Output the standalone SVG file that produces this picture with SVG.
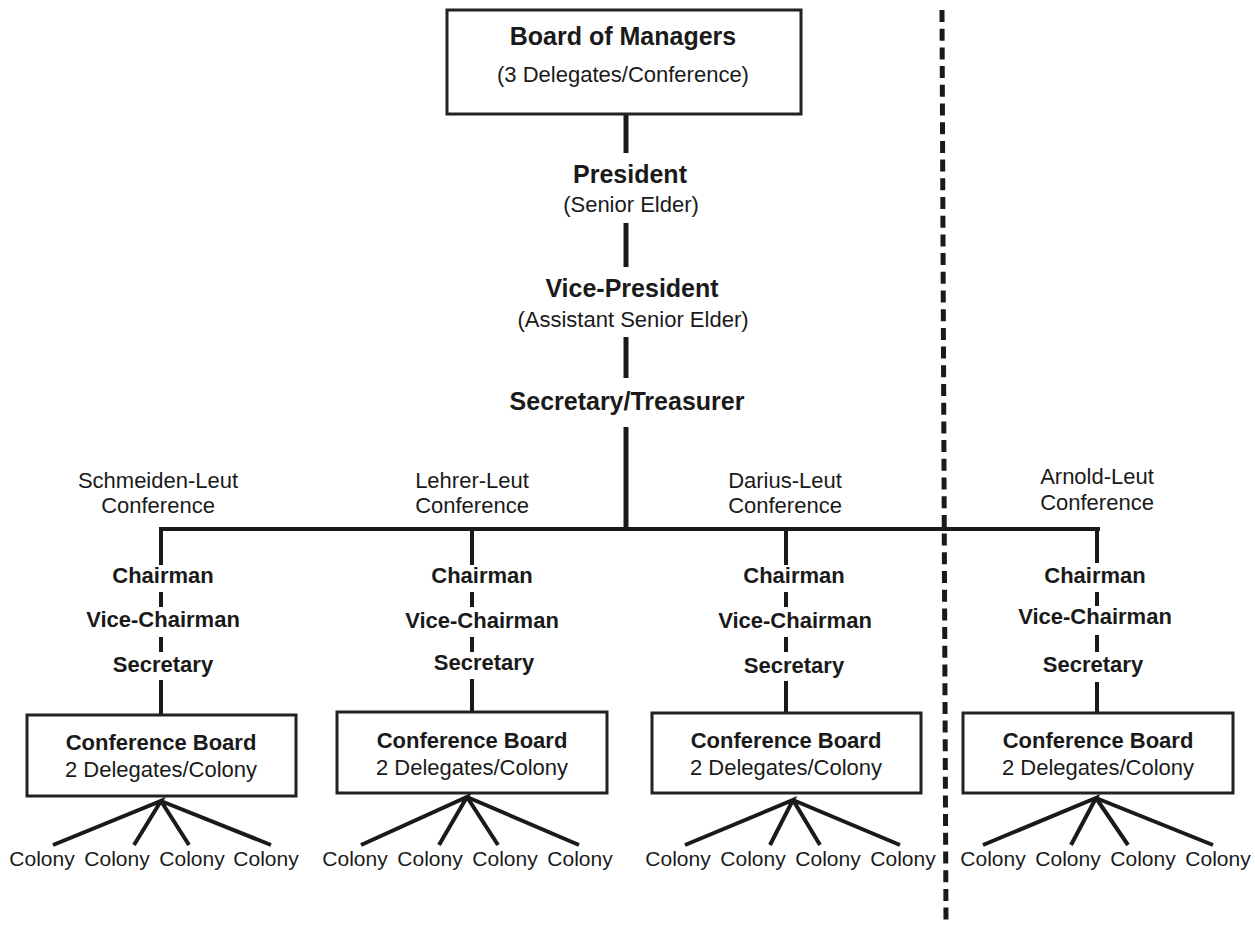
<svg xmlns="http://www.w3.org/2000/svg" width="1255" height="929" viewBox="0 0 1255 929">
<style>
.t{font-family:"Liberation Sans",Arial,Helvetica,sans-serif;fill:#1a1a1a;text-anchor:middle}
.b{font-weight:bold}
.c{font-size:21px}
.box{fill:none;stroke:#222;stroke-width:3}
.ln{stroke:#1a1a1a;stroke-width:4;fill:none}
.thick{stroke:#1a1a1a;stroke-width:5;fill:none}
</style>
<rect width="1255" height="929" fill="#ffffff"/>
<g id="connectors">
<line class="thick" x1="626" y1="114" x2="626" y2="153"/>
<line class="thick" x1="626" y1="223" x2="626" y2="267"/>
<line class="thick" x1="626" y1="337" x2="626" y2="378"/>
<line class="thick" x1="626" y1="427" x2="626" y2="529"/>
<line class="ln" x1="159" y1="529" x2="1100" y2="529"/>
<g id="col1-links">
<line class="ln" x1="161" y1="529" x2="161" y2="565"/>
<line class="ln" x1="161" y1="592" x2="161" y2="607"/>
<line class="ln" x1="161" y1="637" x2="161" y2="652"/>
<line class="ln" x1="161" y1="680" x2="161" y2="715"/>
<path class="ln" d="M53 845 L161 801 L134 845 M161 801 L189 845 M161 801 L271 845"/>
</g>
<g id="col2-links">
<line class="ln" x1="472" y1="529" x2="472" y2="565"/>
<line class="ln" x1="472" y1="592" x2="472" y2="607"/>
<line class="ln" x1="472" y1="637" x2="472" y2="652"/>
<line class="ln" x1="472" y1="679" x2="472" y2="712"/>
<path class="ln" d="M361 845 L467 797 L439 845 M467 797 L498 845 M467 797 L579 845"/>
</g>
<g id="col3-links">
<line class="ln" x1="786" y1="529" x2="786" y2="565"/>
<line class="ln" x1="786" y1="592" x2="786" y2="607"/>
<line class="ln" x1="786" y1="637" x2="786" y2="652"/>
<line class="ln" x1="786" y1="681" x2="786" y2="713"/>
<path class="ln" d="M685 845 L793 800 L770 845 M793 800 L820 845 M793 800 L900 845"/>
</g>
<g id="col4-links">
<line class="ln" x1="1097" y1="529" x2="1097" y2="563"/>
<line class="ln" x1="1097" y1="592" x2="1097" y2="606"/>
<line class="ln" x1="1097" y1="635" x2="1097" y2="652"/>
<line class="ln" x1="1097" y1="682" x2="1097" y2="713"/>
<path class="ln" d="M983 845 L1096 798 L1071 845 M1096 798 L1128 845 M1096 798 L1213 845"/>
</g>
<line id="divider" x1="942" y1="10" x2="946" y2="925" stroke="#1a1a1a" stroke-width="5" stroke-dasharray="12 6.7"/>
</g>
<g id="board">
<rect class="box" x="447" y="10" width="354" height="104"/>
<text class="t b" x="623" y="45" font-size="25">Board of Managers</text>
<text class="t" x="623" y="82" font-size="22">(3 Delegates/Conference)</text>
</g>
<g id="president">
<text class="t b" x="630" y="183" font-size="25">President</text>
<text class="t" x="631" y="212" font-size="22">(Senior Elder)</text>
</g>
<g id="vice-president">
<text class="t b" x="632" y="297" font-size="25">Vice-President</text>
<text class="t" x="633" y="327" font-size="22">(Assistant Senior Elder)</text>
</g>
<g id="secretary-treasurer">
<text class="t b" x="627" y="410" font-size="25">Secretary/Treasurer</text>
</g>
<g id="schmeiden">
<text class="t" x="158" y="488" font-size="22">Schmeiden-Leut</text>
<text class="t" x="158" y="513" font-size="22">Conference</text>
<text class="t b" x="163" y="583" font-size="22">Chairman</text>
<text class="t b" x="163" y="627" font-size="22">Vice-Chairman</text>
<text class="t b" x="163" y="672" font-size="22">Secretary</text>
<rect class="box" x="27" y="715" width="269" height="81"/>
<text class="t b" x="161" y="750" font-size="22">Conference Board</text>
<text class="t" x="161" y="777" font-size="22">2 Delegates/Colony</text>
<text class="t c" x="42" y="866">Colony</text>
<text class="t c" x="117" y="866">Colony</text>
<text class="t c" x="192" y="866">Colony</text>
<text class="t c" x="266" y="866">Colony</text>
</g>
<g id="lehrer">
<text class="t" x="472" y="488" font-size="22">Lehrer-Leut</text>
<text class="t" x="472" y="513" font-size="22">Conference</text>
<text class="t b" x="482" y="583" font-size="22">Chairman</text>
<text class="t b" x="482" y="628" font-size="22">Vice-Chairman</text>
<text class="t b" x="484" y="670" font-size="22">Secretary</text>
<rect class="box" x="337" y="712" width="270" height="81"/>
<text class="t b" x="472" y="748" font-size="22">Conference Board</text>
<text class="t" x="472" y="775" font-size="22">2 Delegates/Colony</text>
<text class="t c" x="355" y="866">Colony</text>
<text class="t c" x="430" y="866">Colony</text>
<text class="t c" x="505" y="866">Colony</text>
<text class="t c" x="580" y="866">Colony</text>
</g>
<g id="darius">
<text class="t" x="785" y="488" font-size="22">Darius-Leut</text>
<text class="t" x="785" y="513" font-size="22">Conference</text>
<text class="t b" x="794" y="583" font-size="22">Chairman</text>
<text class="t b" x="795" y="628" font-size="22">Vice-Chairman</text>
<text class="t b" x="794" y="673" font-size="22">Secretary</text>
<rect class="box" x="652" y="713" width="269" height="80"/>
<text class="t b" x="786" y="748" font-size="22">Conference Board</text>
<text class="t" x="786" y="775" font-size="22">2 Delegates/Colony</text>
<text class="t c" x="678" y="866">Colony</text>
<text class="t c" x="753" y="866">Colony</text>
<text class="t c" x="828" y="866">Colony</text>
<text class="t c" x="903" y="866">Colony</text>
</g>
<g id="arnold">
<text class="t" x="1097" y="484" font-size="22">Arnold-Leut</text>
<text class="t" x="1097" y="510" font-size="22">Conference</text>
<text class="t b" x="1095" y="583" font-size="22">Chairman</text>
<text class="t b" x="1095" y="624" font-size="22">Vice-Chairman</text>
<text class="t b" x="1093" y="672" font-size="22">Secretary</text>
<rect class="box" x="963" y="713" width="270" height="80"/>
<text class="t b" x="1098" y="748" font-size="22">Conference Board</text>
<text class="t" x="1098" y="775" font-size="22">2 Delegates/Colony</text>
<text class="t c" x="993" y="866">Colony</text>
<text class="t c" x="1068" y="866">Colony</text>
<text class="t c" x="1143" y="866">Colony</text>
<text class="t c" x="1218" y="866">Colony</text>
</g>
</svg>
